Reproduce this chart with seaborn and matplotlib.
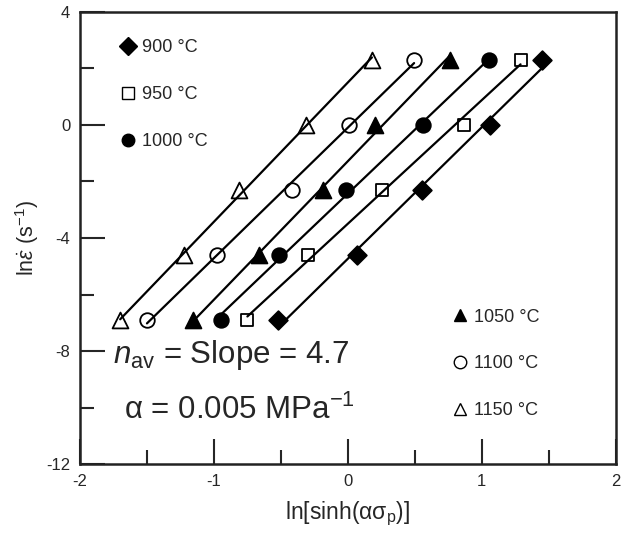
import numpy as np
import pandas as pd
import seaborn as sns
import matplotlib.pyplot as plt
from matplotlib.lines import Line2D

sns.set_theme(style="ticks")
plt.rcParams['font.family'] = ['Liberation Sans', 'DejaVu Sans']
plt.rcParams['mathtext.fontset'] = 'custom'
plt.rcParams['mathtext.rm'] = 'Liberation Sans'
plt.rcParams['mathtext.it'] = 'Liberation Sans:italic'
plt.rcParams['axes.unicode_minus'] = False

# DATA
temps = ["900 °C", "950 °C", "1000 °C", "1050 °C", "1100 °C", "1150 °C"]
ln_rate = [-6.91, -4.61, -2.30, 0.0, 2.30]
x_900 = [-0.52, 0.07, 0.555, 1.06, 1.45]
x_950 = [-0.75, -0.30, 0.255, 0.87, 1.29]
x_1000 = [-0.95, -0.515, -0.015, 0.565, 1.055]
x_1050 = [-1.155, -0.66, -0.185, 0.20, 0.76]
x_1100 = [-1.50, -0.98, -0.415, 0.01, 0.495]
x_1150 = [-1.70, -1.22, -0.81, -0.31, 0.18]
xs = [x_900, x_950, x_1000, x_1050, x_1100, x_1150]

markers = ["D", "s", "o", "^", "o", "^"]
faces = ["black", "white", "black", "black", "white", "white"]
sizes = [90, 85, 110, 130, 110, 130]

df = pd.DataFrame({
    "x": np.concatenate(xs),
    "y": np.tile(ln_rate, len(temps)),
    "T": np.repeat(temps, len(ln_rate)),
})

fig, ax = plt.subplots(figsize=(6.25, 5.36), dpi=100)
fig.subplots_adjust(left=0.128, right=0.985, bottom=0.134, top=0.978)

for t, m, fc, s in zip(temps, markers, faces, sizes):
    sub = df[df["T"] == t]
    sns.regplot(data=sub, x="x", y="y", ax=ax, ci=None, truncate=True,
                color="black", marker=m,
                scatter_kws={"facecolors": fc, "edgecolors": "black",
                             "s": s, "linewidths": 1.3, "alpha": 1, "zorder": 2},
                line_kws={"lw": 1.6, "zorder": 3})

ax.set_xlim(-2, 2)
ax.set_ylim(-12, 4)
ax.set_xticks([-2, -1, 0, 1, 2])
ax.set_xticks([-1.5, -0.5, 0.5, 1.5], minor=True)
ax.set_yticks([-12, -8, -4, 0, 4])
ax.set_yticks([-10, -6, -2, 2], minor=True)
ax.tick_params(which="both", direction="in", width=1.5, labelsize=12, pad=7,
               top=False, right=False)
ax.tick_params(which="major", length=18)
ax.tick_params(which="minor", length=10)
for sp in ax.spines.values():
    sp.set_linewidth(1.8)
    sp.set_color("#222222")

ax.set_xlabel(r"ln[sinh(ασ$_{\rm p}$)]", fontsize=16.5, labelpad=8)
ax.set_ylabel(r"ln$\dot{\varepsilon}$ (s$^{-1}$)", fontsize=15.5, labelpad=4)

handles = [Line2D([], [], marker=m, color="black", markerfacecolor=fc,
                  markeredgecolor="black", linestyle="none", markersize=9)
           for m, fc in zip(markers, faces)]
leg1 = ax.legend(handles[:3], temps[:3], loc="upper left", frameon=False,
                 bbox_to_anchor=(0.045, 0.975), labelspacing=1.65,
                 handlelength=0.8, handletextpad=0.4, fontsize=13)
ax.add_artist(leg1)
ax.legend(handles[3:], temps[3:], loc="upper left", frameon=False,
          bbox_to_anchor=(0.665, 0.38), labelspacing=1.65,
          handlelength=0.8, handletextpad=0.4, fontsize=13)

ax.text(-1.75, -8.15, r"$\it{n}_{\rm av}$ = Slope = 4.7", fontsize=22.5, va="center")
ax.text(-1.67, -10.1, r"α = 0.005 MPa$^{-1}$", fontsize=22.5, va="center")

fig.savefig("out.png", dpi=100)
